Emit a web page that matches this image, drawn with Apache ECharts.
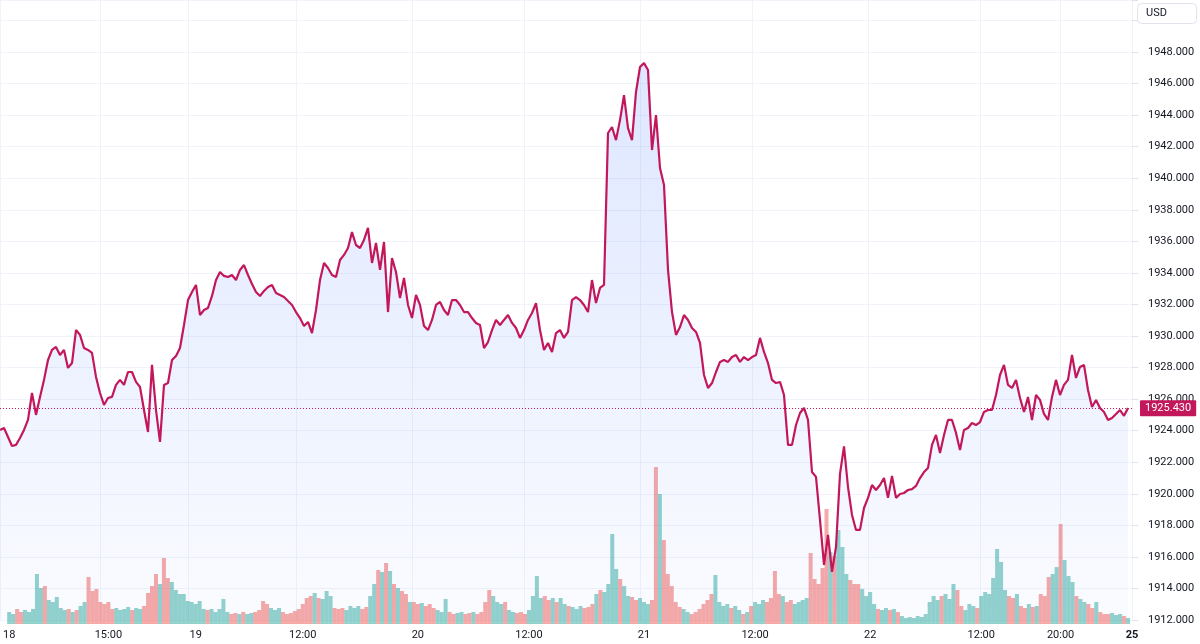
<!DOCTYPE html>
<html>
<head>
<meta charset="utf-8">
<script src="https://cdn.jsdelivr.net/npm/echarts@6/dist/echarts.min.js"></script>
<style>
html,body{margin:0;padding:0;background:#ffffff;}
#chart{width:1200px;height:644px;}
</style>
</head>
<body>
<div id="chart"></div>
<script>
// ---- data ----
const prices = [
  1924.05, 1924.17, 1923.60, 1923.03, 1923.10, 1923.54, 1924.05, 1924.68, 1926.39, 1925.00,
  1926.14, 1927.22, 1928.48, 1929.12, 1929.31, 1928.80, 1929.12, 1927.98, 1928.29, 1930.38,
  1930.07, 1929.24, 1929.12, 1928.93, 1927.41, 1926.39, 1925.63, 1926.07, 1926.14, 1926.90,
  1927.22, 1926.90, 1927.72, 1927.72, 1927.09, 1926.77, 1925.31, 1923.92, 1928.17, 1925.31,
  1923.29, 1926.90, 1927.02, 1928.48, 1928.74, 1929.24, 1930.70, 1932.28, 1932.79, 1933.24,
  1931.33, 1931.65, 1931.78, 1932.54, 1933.55, 1934.06, 1933.81, 1933.74, 1933.87, 1933.55,
  1934.19, 1934.50, 1933.87, 1933.30, 1932.79, 1932.54, 1932.86, 1933.11, 1933.24, 1932.73,
  1932.60, 1932.47, 1932.22, 1931.97, 1931.52, 1931.14, 1930.64, 1930.89, 1930.19, 1931.65,
  1933.55, 1934.63, 1934.31, 1933.87, 1933.74, 1934.82, 1935.14, 1935.58, 1936.59, 1935.77,
  1935.58, 1936.09, 1936.85, 1934.63, 1935.90, 1934.19, 1935.96, 1931.52, 1934.94, 1934.06,
  1932.41, 1933.68, 1931.97, 1931.14, 1932.60, 1931.97, 1930.64, 1930.38, 1931.02, 1931.97,
  1932.16, 1931.65, 1931.33, 1932.28, 1932.28, 1931.97, 1931.52, 1931.52, 1931.14, 1930.83,
  1930.70, 1929.24, 1929.62, 1930.38, 1931.02, 1930.70, 1931.02, 1931.33, 1930.83, 1930.51,
  1929.88, 1930.38, 1931.02, 1931.46, 1932.09, 1930.38, 1929.12, 1929.56, 1928.99, 1930.19,
  1930.38, 1929.88, 1930.26, 1932.28, 1932.47, 1932.28, 1931.97, 1931.52, 1933.55, 1932.09,
  1933.05, 1933.24, 1942.87, 1943.25, 1942.42, 1943.69, 1945.27, 1943.18, 1942.42, 1945.47,
  1947.05, 1947.30, 1946.86, 1941.79, 1944.01, 1940.65, 1939.57, 1934.19, 1931.52, 1930.07,
  1930.57, 1931.33, 1931.02, 1930.51, 1930.26, 1929.56, 1927.53, 1926.71, 1927.02, 1927.72,
  1928.36, 1928.48, 1928.36, 1928.67, 1928.80, 1928.36, 1928.67, 1928.48, 1928.67, 1928.80,
  1929.88, 1928.99, 1928.29, 1927.22, 1927.02, 1927.09, 1926.26, 1923.10, 1923.10, 1924.36,
  1925.12, 1925.44, 1924.68, 1921.38, 1921.07, 1918.34, 1915.49, 1917.40, 1915.05, 1916.63,
  1921.26, 1923.00, 1920.43, 1918.66, 1917.71, 1917.71, 1919.10, 1919.74, 1920.56, 1920.24,
  1920.56, 1921.00, 1919.74, 1921.13, 1919.74, 1919.99, 1920.05, 1920.24, 1920.30, 1920.50,
  1921.00, 1921.38, 1921.64, 1923.10, 1923.73, 1922.59, 1923.73, 1924.68, 1924.68, 1923.86,
  1922.78, 1924.05, 1924.17, 1924.49, 1924.36, 1924.55, 1925.19, 1925.31, 1925.31, 1926.26,
  1927.53, 1928.17, 1926.90, 1926.71, 1927.22, 1926.07, 1925.19, 1926.14, 1924.68, 1926.26,
  1925.95, 1925.06, 1924.68, 1926.14, 1927.22, 1926.26, 1926.90, 1927.22, 1928.80, 1927.34,
  1928.04, 1928.17, 1926.58, 1925.50, 1925.95, 1925.44, 1925.19, 1924.68, 1924.81, 1925.06,
  1925.31, 1924.94, 1925.43
];

const volumes = [
  12, 10, 15, 12, 14, 12, 15, 50, 36, 38,
  24, 22, 27, 16, 14, 15, 12, 14, 18, 22,
  47, 33, 35, 22, 20, 22, 15, 16, 14, 15,
  17, 14, 16, 15, 18, 31, 38, 50, 40, 66,
  46, 42, 34, 30, 30, 23, 22, 20, 23, 15,
  14, 15, 12, 15, 25, 12, 10, 11, 10, 12,
  10, 11, 12, 14, 23, 20, 16, 14, 16, 12,
  10, 11, 13, 15, 20, 26, 28, 31, 26, 25,
  33, 28, 16, 15, 16, 14, 18, 16, 18, 15,
  17, 28, 40, 54, 52, 61, 53, 40, 36, 33,
  30, 22, 22, 20, 21, 18, 20, 16, 14, 12,
  25, 12, 10, 11, 12, 10, 11, 12, 10, 12,
  22, 34, 28, 22, 20, 22, 14, 12, 11, 12,
  10, 14, 28, 48, 26, 28, 24, 26, 22, 26,
  20, 18, 17, 15, 18, 16, 17, 20, 30, 34,
  32, 40, 90, 55, 45, 38, 28, 27, 24, 26,
  22, 20, 24, 157, 130, 84, 50, 38, 22, 17,
  15, 12, 10, 12, 15, 20, 24, 30, 49, 22,
  18, 20, 16, 18, 14, 10, 12, 18, 22, 20,
  24, 22, 26, 53, 30, 28, 22, 24, 20, 22,
  24, 26, 71, 45, 40, 56, 115, 72, 68, 94,
  77, 50, 44, 40, 40, 35, 28, 32, 20, 15,
  14, 16, 14, 15, 12, 8, 6, 7, 6, 8,
  7, 10, 22, 28, 24, 28, 30, 25, 40, 34,
  18, 14, 20, 18, 16, 28, 32, 30, 46, 75,
  62, 34, 28, 26, 30, 18, 16, 20, 17, 18,
  30, 28, 47, 50, 57, 100, 64, 48, 42, 28,
  25, 22, 20, 16, 22, 12, 10, 10, 11, 9,
  10, 8, 6
];

// time-scale labels and the bar index where each one sits
const tickLabels = ['18', '15:00', '19', '12:00', '20', '12:00', '21', '12:00', '22', '12:00', '20:00', '25'];
const tickIndex  = [0, 25, 47, 74, 103, 131, 160, 188, 217, 245, 265, 283];
const boldLabels = ['25'];

const lastPrice = 1925.43;
const currency = 'USD';

// ---- build chart ----
const N = prices.length + 1;
const categories = Array.from({length: N}, () => '');
tickIndex.forEach((k, j) => { categories[k] = tickLabels[j]; });
const isTick = (idx, val) => val !== '';

const LINE = '#c2185b';
const UP = 'rgba(38,166,154,0.5)';
const DOWN = 'rgba(239,83,80,0.5)';
const GRIDC = '#f0f3fa';
const TXT = '#131722';

const lineData = prices.concat([null]);
const volData = volumes.map((v, i) => ({
  value: v,
  itemStyle: {color: (i === 0 || prices[i] >= prices[i - 1]) ? UP : DOWN}
}));

const chart = echarts.init(document.getElementById('chart'), null, {renderer: 'canvas'});
chart.setOption({
  animation: false,
  backgroundColor: '#ffffff',
  textStyle: {fontFamily: 'Roboto, "Liberation Sans", sans-serif'},
  title: {
    text: currency, right: 3, top: 3,
    padding: [5, 30, 5, 9],
    borderColor: '#e0e3eb', borderWidth: 1, borderRadius: 4,
    textStyle: {fontSize: 11, fontWeight: 'normal', color: TXT}
  },
  grid: [
    {left: 0, right: 68, top: 0, bottom: 24},
    {left: 0, right: 68, top: 424, bottom: 20}
  ],
  xAxis: [
    {
      type: 'category', gridIndex: 0, data: categories, boundaryGap: false,
      axisLine: {show: false}, axisTick: {show: false}, axisLabel: {show: false},
      splitLine: {show: true, interval: isTick, lineStyle: {color: GRIDC, width: 1}}
    },
    {
      type: 'category', gridIndex: 1, data: categories, boundaryGap: false,
      axisLine: {show: false}, axisTick: {show: false},
      splitLine: {show: false},
      axisLabel: {
        show: true, interval: isTick, color: TXT, fontSize: 11, margin: 6,
        alignMinLabel: 'center', alignMaxLabel: 'center',
        formatter: v => boldLabels.includes(v) ? '{b|' + v + '}' : v,
        rich: {b: {fontWeight: 'bold', fontSize: 11, color: TXT}}
      }
    }
  ],
  yAxis: [
    {
      type: 'value', gridIndex: 0, position: 'right',
      min: 1912, max: 1951.3, interval: 2,
      axisLine: {show: false},
      axisTick: {show: true, length: 6, lineStyle: {color: '#e0e3eb'}},
      axisLabel: {
        color: TXT, fontSize: 11, margin: 16,
        formatter: v => (v > 1949 || v % 2 !== 0 ? '' : v.toFixed(3))
      },
      splitLine: {show: true, lineStyle: {color: GRIDC, width: 1}}
    },
    {type: 'value', gridIndex: 1, min: 0, max: 200, show: false}
  ],
  series: [
    {
      name: 'Volume', type: 'bar', xAxisIndex: 1, yAxisIndex: 1,
      data: volData, barWidth: 4, z: 1, silent: true
    },
    {
      name: 'Price', type: 'line', xAxisIndex: 0, yAxisIndex: 0,
      data: lineData, showSymbol: false, symbol: 'none', z: 3,
      lineStyle: {color: LINE, width: 2.2},
      areaStyle: {
        color: new echarts.graphic.LinearGradient(0, 0, 0, 1, [
          {offset: 0, color: 'rgba(41,98,255,0.22)'},
          {offset: 1, color: 'rgba(41,98,255,0.03)'}
        ])
      },
      markLine: {
        silent: true, symbol: ['none', 'none'], animation: false,
        data: [{yAxis: lastPrice}],
        lineStyle: {color: LINE, type: [1, 2], width: 1},
        label: {
          show: true, position: 'end', distance: 8,
          formatter: lastPrice.toFixed(3),
          backgroundColor: LINE, color: '#ffffff', fontSize: 11,
          padding: [3, 5, 2, 5], borderRadius: 1
        }
      }
    }
  ]
});
</script>
</body>
</html>
